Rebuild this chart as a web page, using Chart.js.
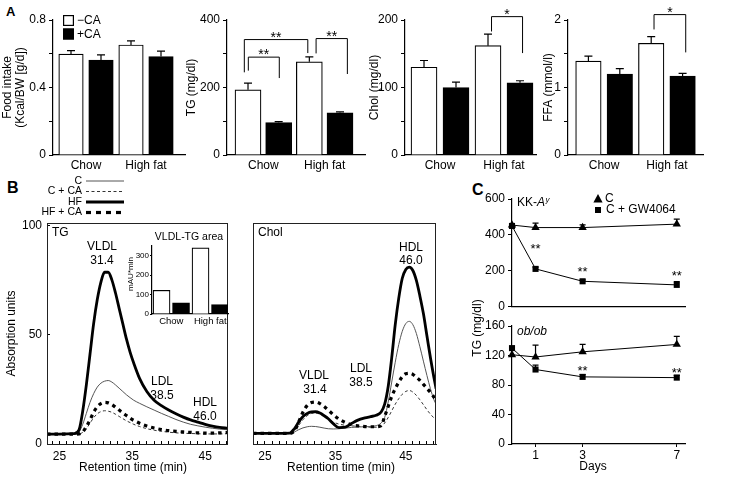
<!DOCTYPE html>
<html><head><meta charset="utf-8"><title>Figure</title>
<script src="https://cdn.jsdelivr.net/npm/chart.js@4.4.1/dist/chart.umd.min.js"></script>
<style>
html,body{margin:0;padding:0;background:#fff;}
body{width:747px;height:479px;position:relative;overflow:hidden;font-family:'Liberation Sans',Arial,sans-serif;}
canvas{position:absolute;}
.panel{position:absolute;font-weight:bold;line-height:1;color:#000;}
</style></head>
<body>
<div class="panel" style="left:6px;top:5px;font-size:13px">A</div>
<div class="panel" style="left:7px;top:180px;font-size:16px">B</div>
<div class="panel" style="left:472px;top:182px;font-size:16px">C</div>
<script>
// ================= DATA =================
// Panel A
const groups = ['Chow', 'High fat'];
const treat = ['\u2212CA', '+CA'];
const foodMinus = [0.598, 0.652], foodPlus = [0.563, 0.583];
const foodMinusErr = [0.02, 0.024], foodPlusErr = [0.03, 0.033];
const tgMinus = [193, 276], tgPlus = [96, 125];
const tgMinusErr = [20, 15], tgPlusErr = [3, 3];
const cholMinus = [130, 162], cholPlus = [100, 107];
const cholMinusErr = [10, 17], cholPlusErr = [8, 3];
const ffaMinus = [1.39, 1.655], ffaPlus = [1.2, 1.17];
const ffaMinusErr = [0.075, 0.1], ffaPlusErr = [0.08, 0.04];
const foodTicks = [0, 0.4, 0.8], tgTicks = [0, 200, 400], cholTicks = [0, 100, 200], ffaTicks = [0, 1, 2];

// Panel B inset
const vldlMinus = [122, 340], vldlPlus = [57, 48];
const vldlTicks = [0, 100, 200, 300];

// Panel B chromatograms
const lipoSeries = ['C', 'C + CA', 'HF', 'HF + CA'];
const retTicks = [25, 35, 45];
const absTicks = [0, 50, 100];
const tgTime = [23.3, 25, 27, 27.7, 28.2, 28.7, 29.2, 29.7, 30.2, 30.7, 31.2, 31.7, 32.2, 32.7, 33.2, 33.7, 34.2, 34.7, 35.2, 36, 37, 38, 39, 40, 41, 42, 43, 44, 45, 46, 47, 48.1];
const tgC    = [4.5, 4.5, 4.6, 5.5, 9, 14, 19, 23, 26, 27.8, 28.7, 29, 28.3, 27, 25.5, 24, 22.5, 21.2, 20, 18.6, 17, 15.5, 14, 12.6, 11.2, 10, 9, 8.3, 7.7, 7.2, 6.8, 6.5];
const tgCCA  = [4.5, 4.5, 4.5, 4.6, 5.3, 7, 9.5, 12, 13.8, 14.8, 15.2, 15, 14.5, 13.6, 12.6, 11.6, 10.6, 9.8, 9, 8, 7, 6.3, 5.8, 5.4, 5.1, 4.9, 4.8, 4.7, 4.6, 4.6, 4.6, 4.7];
const tgHF   = [4.5, 4.5, 4.7, 6.5, 15, 27, 41, 55, 66, 74, 78.5, 78.5, 75, 69, 62, 55, 48, 42, 37, 30, 24, 20, 17.5, 15.5, 13.8, 12.3, 11, 10, 9, 8.2, 7.6, 7.2];
const tgHFCA = [4.5, 4.5, 4.5, 4.6, 5.5, 8, 11, 14.5, 17, 18.5, 19, 18.8, 18, 16.8, 15.5, 14.2, 13, 11.8, 10.8, 9.5, 8.2, 7.3, 6.6, 6.1, 5.8, 5.5, 5.3, 5.1, 5, 5, 5.1, 5.3];
const cholTime = [23.3, 25, 27, 28.5, 29.2, 29.8, 30.4, 31, 31.6, 32.2, 32.8, 33.4, 34, 34.7, 35.5, 36.4, 37.3, 38.2, 39.2, 40, 40.8, 41.5, 42, 42.5, 43, 43.5, 44, 44.5, 45, 45.5, 46, 46.5, 47, 47.5, 48, 48.5, 49, 49.3];
const cholC    = [4.8, 4.8, 4.8, 4.8, 5.5, 6.5, 7.3, 7.8, 8, 7.9, 7.6, 7.2, 6.9, 6.8, 6.9, 7.2, 7.5, 7.7, 7.8, 7.9, 8.3, 9.5, 12, 19, 28, 37, 45, 51, 54.5, 55.5, 54, 50, 44, 37.5, 31, 25, 20, 18];
const cholCCA  = [4.8, 4.8, 4.8, 4.8, 6, 8.5, 11, 12.8, 13.8, 14, 13.5, 12.5, 11.3, 10, 9, 8.5, 8.2, 8, 7.8, 7.6, 7.6, 8, 9.5, 12, 15, 18, 20.5, 22.5, 23.8, 24.2, 23.5, 22, 20, 17.8, 15.5, 13.5, 11.8, 11];
const cholHF   = [4.8, 4.8, 4.8, 4.9, 7, 10, 12.4, 13.8, 14.5, 14.6, 14, 12.8, 11.4, 9.2, 7.4, 7.6, 9.3, 10.8, 11.8, 12.4, 13, 14.5, 18, 26, 39, 54, 66, 75, 79, 80, 78.5, 74, 67, 59, 49, 39, 30, 25];
const cholHFCA = [4.8, 4.8, 4.8, 4.8, 6, 10, 14.5, 17.5, 18.8, 19, 18.3, 17, 15.3, 13.3, 11.3, 9.7, 8.7, 8.2, 7.9, 7.8, 7.8, 8.3, 12.5, 17, 21.5, 25, 28, 30.5, 31.8, 32, 31.5, 30.2, 28.8, 27, 25.2, 23.3, 21.2, 20];

// Panel C
const timeSeries = ['C', 'C + GW4064'];
const days = [0, 1, 3, 7];
const dayTicks = [1, 3, 7];
const kkC = [455, 441, 441, 460], kkCErr = [0, 25, 15, 28];
const kkGW = [450, 211, 142, 122], kkGWErr = [0, 10, 8, 18];
const obC = [121, 118, 125, 135], obCErr = [0, 16, 10, 11];
const obGW = [130, 101, 91, 90], obGWErr = [0, 6, 3, 3];
const kkTicks = [0, 200, 400, 600], obTicks = [0, 40, 80, 120, 160];

// ================= HELPERS =================
const FONT = "'Liberation Sans', Arial, Helvetica, sans-serif";
Chart.defaults.font.family = FONT;
Chart.defaults.font.size = 12;
Chart.defaults.color = '#000';

function place(plot, leftW, bottomH, padTop, padRight) {
  const L = plot.l - leftW, T = plot.t - padTop;
  const W = leftW + plot.r - plot.l + padRight, H = padTop + plot.b - plot.t + bottomH;
  const c = document.createElement('canvas');
  c.width = W; c.height = H;
  Object.assign(c.style, {left: L + 'px', top: T + 'px', width: W + 'px', height: H + 'px'});
  document.body.appendChild(c);
  return {canvas: c, L, T, leftW, bottomH, padTop, padRight};
}
function baseOpts(P) {
  return {
    responsive: false, maintainAspectRatio: false, animation: false, devicePixelRatio: 1, events: [],
    layout: {padding: {top: P.padTop, right: P.padRight, left: 0, bottom: 0}},
    plugins: {legend: {display: false}, tooltip: {enabled: false}}
  };
}
function near(list, v) { return list.find(l => Math.abs(l - v) < 1e-6); }
function labelFrom(list) { return v => { const l = near(list, v); return l === undefined ? '' : String(l); }; }
function txt(ctx, s, x, y, o = {}) {
  ctx.save();
  ctx.font = `${o.style || 'normal'} ${o.weight || 'normal'} ${o.size || 12}px ${FONT}`;
  ctx.fillStyle = o.color || '#000';
  ctx.textAlign = o.align || 'center';
  ctx.textBaseline = o.baseline || 'middle';
  ctx.translate(x, y);
  if (o.rot) ctx.rotate(o.rot);
  ctx.fillText(s, 0, 0);
  ctx.restore();
}
function pageText(P, items) {
  return {id: 'pageText', afterDraw(chart) {
    items.forEach(it => txt(chart.ctx, it.t, it.x - P.L, it.y - P.T, it));
  }};
}
const errorBars = {id: 'errorBars', afterDatasetsDraw(chart) {
  const ctx = chart.ctx;
  chart.data.datasets.forEach((ds, di) => {
    if (!ds.err) return;
    const meta = chart.getDatasetMeta(di);
    const ys = chart.scales[meta.yAxisID];
    const cap = ds.errCap || 4;
    meta.data.forEach((el, i) => {
      const e = ds.err[i]; if (!e) return;
      const v = ds.data[i].y;
      const y0 = ys.getPixelForValue(v), y1 = ys.getPixelForValue(v + e);
      ctx.save(); ctx.strokeStyle = '#000'; ctx.lineWidth = 1.2; ctx.beginPath();
      ctx.moveTo(el.x, y0); ctx.lineTo(el.x, y1);
      ctx.moveTo(el.x - cap, y1); ctx.lineTo(el.x + cap, y1);
      ctx.stroke(); ctx.restore();
    });
  });
}};
function bracketPlugin(list) { return {id: 'brackets', afterDraw(chart) {
  const ctx = chart.ctx, xs = chart.scales.x, ys = chart.scales.y;
  list.forEach(b => {
    const x0 = xs.getPixelForValue(b.x0), x1 = xs.getPixelForValue(b.x1);
    const yt = ys.getPixelForValue(b.top), ya = ys.getPixelForValue(b.y0), yb = ys.getPixelForValue(b.y1);
    ctx.save(); ctx.strokeStyle = '#000'; ctx.lineWidth = 1;
    ctx.beginPath(); ctx.moveTo(x0, ya); ctx.lineTo(x0, yt); ctx.lineTo(x1, yt); ctx.lineTo(x1, yb); ctx.stroke(); ctx.restore();
    txt(ctx, b.text, (x0 + x1) / 2, yt + 2, {size: 14, baseline: 'alphabetic'});
  });
}};}
const boxPlugin = {id: 'box', afterDraw(chart) {
  const a = chart.chartArea, ctx = chart.ctx;
  ctx.save(); ctx.strokeStyle = '#222'; ctx.lineWidth = 1;
  ctx.strokeRect(Math.round(a.left) + 0.5, Math.round(a.top) + 0.5, Math.round(a.right - a.left) - 1, Math.round(a.bottom - a.top));
  ctx.restore();
}};

// ================= PANEL A =================
function barPanel(o) {
  const P = place(o.plot, o.leftW, o.bottomH || 22, o.padTop || 20, o.padRight || 4);
  const pos = (ci, si) => 2 * ci + si;
  const mk = (vals, errs, si, fill) => ({
    label: treat[si], data: vals.map((v, ci) => ({x: pos(ci, si), y: v})), err: errs,
    backgroundColor: fill, borderColor: '#000', borderWidth: 1.2, grouped: false,
    maxBarThickness: o.barW, barPercentage: 1, categoryPercentage: 1
  });
  const opts = baseOpts(P);
  const fs = o.fontSize || 12;
  opts.scales = {
    x: {type: 'linear', min: o.xMin, max: o.xMax, offset: false,
      afterFit: s => { s.height = P.bottomH; },
      afterBuildTicks: s => { s.ticks = groups.map((g, i) => ({value: 2 * i + 0.5})); },
      ticks: {autoSkip: false, maxRotation: 0, padding: o.xPad || 3, font: {size: fs},
        callback: v => groups[Math.round((v - 0.5) / 2)] ?? ''},
      grid: {drawOnChartArea: false, drawTicks: false, offset: false},
      border: {color: '#000', width: 1.2}},
    y: {min: 0, max: o.yMax,
      afterFit: s => { s.width = P.leftW; },
      afterBuildTicks: o.tickList ? (s => { s.ticks = o.tickList.map(v => ({value: v})); }) : undefined,
      ticks: {stepSize: o.step, autoSkip: false, padding: o.yPad || 3, font: {size: o.yFont || fs}, callback: labelFrom(o.labels)},
      grid: {drawOnChartArea: false, tickLength: o.tickLen || 4, color: '#000'},
      border: {color: '#000', width: 1.2},
      title: o.title ? {display: true, text: o.title, font: {size: 12, lineHeight: o.titleLH || 1.2},
        padding: {top: o.titlePad, bottom: 0}} : {display: false}}
  };
  return new Chart(P.canvas, {
    type: 'bar',
    data: {datasets: [mk(o.minus, o.minusErr, 0, '#fff'), mk(o.plus, o.plusErr, 1, '#000')]},
    options: opts,
    plugins: [errorBars, bracketPlugin(o.brackets || []), ...(o.extra ? o.extra(P) : [])]
  });
}

// Food intake
barPanel({plot: {l: 53, t: 20, r: 185, b: 155}, leftW: 53, padRight: 2, xMin: -0.6, xMax: 3.8, barW: 24.5,
  minus: foodMinus, plus: foodPlus, minusErr: foodMinusErr, plusErr: foodPlusErr,
  yMax: 0.8, step: 0.2, labels: foodTicks, title: ['Food intake', '(Kcal/BW [g/d])'], titleLH: 13 / 12, titlePad: 1.5,
  extra: P => [{id: 'sqLegend', afterDraw(chart) {
    const ctx = chart.ctx, ys = [20.5, 34];
    chart.data.datasets.forEach((ds, i) => {
      const y = ys[i] - P.T, xx = 63 - P.L;
      ctx.save(); ctx.fillStyle = ds.backgroundColor; ctx.fillRect(xx, y - 5.5, 11, 11);
      ctx.strokeStyle = '#000'; ctx.lineWidth = 1.2; ctx.strokeRect(xx + 0.6, y - 4.9, 9.8, 9.8); ctx.restore();
      txt(ctx, ds.label, xx + 14, y + 0.5, {align: 'left'});
    });
  }}]
});
// TG
barPanel({plot: {l: 227, t: 20, r: 365, b: 155}, leftW: 44, xMin: -0.685, xMax: 3.815, barW: 26,
  minus: tgMinus, plus: tgPlus, minusErr: tgMinusErr, plusErr: tgPlusErr,
  yMax: 400, step: 100, labels: tgTicks, title: 'TG (mg/dl)', titlePad: 1.8,
  brackets: [
    {x0: 0.01, x1: 1.02, top: 290, y0: 250, y1: 228, text: '**'},
    {x0: -0.12, x1: 1.95, top: 342, y0: 245, y1: 302, text: '**'},
    {x0: 2.22, x1: 3.24, top: 345, y0: 301, y1: 240, text: '**'}
  ]});
// Chol
barPanel({plot: {l: 405, t: 20, r: 536, b: 155}, leftW: 40, xMin: -0.594, xMax: 3.5, barW: 26,
  minus: cholMinus, plus: cholPlus, minusErr: cholMinusErr, plusErr: cholPlusErr,
  yMax: 200, step: 50, labels: cholTicks, title: 'Chol (mg/dl)', titlePad: 2.8,
  brackets: [{x0: 2.11, x1: 3.08, top: 205, y0: 183, y1: 151, text: '*'}]});
// FFA
barPanel({plot: {l: 568, t: 20, r: 703, b: 155}, leftW: 30, padRight: 10, xMin: -0.65, xMax: 3.65, barW: 25.5,
  minus: ffaMinus, plus: ffaPlus, minusErr: ffaMinusErr, plusErr: ffaPlusErr,
  yMax: 2, step: 0.5, labels: ffaTicks, title: 'FFA (mmol/l)', titlePad: 3.8,
  brackets: [{x0: 2.09, x1: 3.1, top: 2.08, y0: 1.86, y1: 1.52, text: '*'}]});

// ================= PANEL B =================
const lineStyles = [
  {w: 1, dash: [], color: '#555', order: 2},
  {w: 1, dash: [3, 2.5], color: '#333', order: 3},
  {w: 2.8, dash: [], color: '#000', order: 0},
  {w: 3.2, dash: [3.5, 4], color: '#000', order: 1}
];
function chromPanel(o) {
  const P = place(o.plot, o.leftW, 32, o.padTop, 3);
  const datasets = o.series.map((vals, i) => ({
    label: lipoSeries[i], data: vals.map((v, k) => ({x: o.time[k], y: v})),
    borderColor: lineStyles[i].color, borderWidth: lineStyles[i].w, borderDash: lineStyles[i].dash,
    order: lineStyles[i].order, pointRadius: 0, fill: false, cubicInterpolationMode: 'monotone'
  }));
  const opts = baseOpts(P);
  opts.scales = {
    x: {type: 'linear', min: o.xMin, max: o.xMax,
      afterFit: s => { s.height = P.bottomH; },
      afterBuildTicks: s => { const t = []; for (let v = Math.ceil(s.min); v <= Math.floor(s.max); v++) t.push({value: v}); s.ticks = t; },
      ticks: {autoSkip: false, maxRotation: 0, padding: 8, callback: labelFrom(retTicks)},
      grid: {drawOnChartArea: false, tickLength: -3, color: '#000'},
      border: {color: '#222', width: 1}},
    y: {min: 0, max: o.yMax,
      afterFit: s => { s.width = P.leftW; },
      afterBuildTicks: s => { s.ticks = o.yLabels ? absTicks.map(v => ({value: v})) : []; },
      ticks: {display: !!o.yLabels, autoSkip: false, padding: 8, callback: labelFrom(absTicks)},
      grid: {drawOnChartArea: false, tickLength: -3, color: '#000', drawTicks: !!o.yLabels},
      border: {color: '#222', width: 1},
      title: o.yTitle ? {display: true, text: o.yTitle, font: {size: 12}, padding: {top: o.titlePad, bottom: 0}} : {display: false}}
  };
  return new Chart(P.canvas, {
    type: 'line', data: {datasets}, options: opts,
    plugins: [boxPlugin, pageText(P, o.texts), ...(o.extra ? o.extra(P) : [])]
  });
}
chromPanel({plot: {l: 47, t: 223, r: 232, b: 444}, leftW: 45, padTop: 53, xMin: 23.3, xMax: 48.1, yMax: 101,
  time: tgTime, series: [tgC, tgCCA, tgHF, tgHFCA], yLabels: true, yTitle: 'Absorption units', titlePad: 2.8,
  texts: [
    {t: 'TG', x: 52, y: 233, align: 'left'},
    {t: 'VLDL', x: 102, y: 247}, {t: '31.4', x: 102, y: 261},
    {t: 'LDL', x: 162, y: 382}, {t: '38.5', x: 162, y: 396},
    {t: 'HDL', x: 205, y: 403}, {t: '46.0', x: 205, y: 417},
    {t: 'Retention time (min)', x: 133, y: 468}
  ],
  extra: P => [{id: 'lineLegend', afterDraw(chart) {
    const ctx = chart.ctx, ys = [181, 191.5, 202, 212.5];
    chart.data.datasets.forEach((ds, i) => {
      const y = ys[i] - P.T;
      txt(ctx, ds.label, 82 - P.L, y, {size: 10.5, align: 'right'});
      ctx.save(); ctx.strokeStyle = ds.borderColor; ctx.lineWidth = ds.borderWidth;
      ctx.setLineDash(i === 3 ? [5, 5] : ds.borderDash);
      ctx.beginPath(); ctx.moveTo(86 - P.L, y); ctx.lineTo(124 - P.L, y); ctx.stroke(); ctx.restore();
    });
  }}]
});
chromPanel({plot: {l: 253, t: 223, r: 439, b: 444}, leftW: 10, padTop: 10, xMin: 23.3, xMax: 49.3, yMax: 100,
  time: cholTime, series: [cholC, cholCCA, cholHF, cholHFCA], yLabels: false,
  texts: [
    {t: 'Chol', x: 258, y: 233, align: 'left'},
    {t: 'VLDL', x: 314, y: 376}, {t: '31.4', x: 315, y: 390},
    {t: 'LDL', x: 361, y: 369}, {t: '38.5', x: 361, y: 383},
    {t: 'HDL', x: 411, y: 248}, {t: '46.0', x: 411, y: 261},
    {t: 'Retention time (min)', x: 341, y: 468}
  ]});

// Inset: VLDL-TG area
barPanel({plot: {l: 152, t: 246, r: 228, b: 314}, leftW: 26, padTop: 18, padRight: 10, bottomH: 18, xMin: -0.49, xMax: 3.41, barW: 17,
  minus: vldlMinus, plus: vldlPlus, minusErr: [0, 0], plusErr: [0, 0], fontSize: 9.5, yFont: 8, xPad: 2, yPad: 1,
  yMax: 350, step: 100, tickList: vldlTicks, labels: vldlTicks, tickLen: 2,
  extra: P => [pageText(P, [
    {t: 'VLDL-TG area', x: 189, y: 237, size: 10.5},
    {t: 'mAU*min', x: 131, y: 274, size: 8, rot: -Math.PI / 2}
  ])]});

// ================= PANEL C =================
function timePanel(o) {
  const P = place(o.plot, 40, o.bottomH, o.padTop, 8);
  const styles = [{ps: 'triangle', r: 4.8}, {ps: 'rect', r: 4.3}];
  const datasets = o.series.map((vals, i) => ({
    label: timeSeries[i], data: days.map((d, k) => ({x: d, y: vals[k]})), err: o.errs[i], errCap: 3,
    borderColor: '#000', borderWidth: 1, backgroundColor: '#000', pointBackgroundColor: '#000', pointBorderColor: '#000',
    pointBorderWidth: 0, pointStyle: styles[i].ps, pointRadius: styles[i].r, tension: 0, clip: false
  }));
  const opts = baseOpts(P);
  opts.scales = {
    x: {type: 'linear', min: 0, max: 7.35,
      afterFit: s => { s.height = P.bottomH; },
      afterBuildTicks: s => { s.ticks = o.xLabels ? dayTicks.map(v => ({value: v})) : []; },
      ticks: {display: !!o.xLabels, autoSkip: false, maxRotation: 0, padding: 1, callback: labelFrom(dayTicks)},
      grid: {drawOnChartArea: false, drawTicks: !!o.xLabels, tickLength: 3, color: '#000'},
      border: {color: '#000', width: 1.2}},
    y: {min: 0, max: o.yMax,
      afterFit: s => { s.width = P.leftW; },
      afterBuildTicks: s => { s.ticks = o.ticks.map(v => ({value: v})); },
      ticks: {autoSkip: false, padding: 3, callback: labelFrom(o.ticks)},
      grid: {drawOnChartArea: false, tickLength: 4, color: '#000'},
      border: {color: '#000', width: 1.2}}
  };
  const stars = {id: 'stars', afterDraw(chart) {
    const xs = chart.scales.x, ys = chart.scales.y;
    o.stars.forEach(s => txt(chart.ctx, '**', xs.getPixelForValue(s.d), ys.getPixelForValue(s.v), {size: 13, baseline: 'alphabetic'}));
  }};
  return new Chart(P.canvas, {
    type: 'line', data: {datasets}, options: opts,
    plugins: [errorBars, stars, ...(o.extra ? o.extra(P) : [])]
  });
}
timePanel({plot: {l: 512, t: 199, r: 685, b: 312}, bottomH: 5, padTop: 19, yMax: 600, ticks: kkTicks,
  series: [kkC, kkGW], errs: [kkCErr, kkGWErr], xLabels: false,
  stars: [{d: 1, v: 300}, {d: 3, v: 172}, {d: 7, v: 151}],
  extra: P => [{id: 'kkLegend', afterDraw(chart) {
    const ctx = chart.ctx;
    let x = 517 - P.L; const y = 203 - P.T;
    ctx.save(); ctx.fillStyle = '#000'; ctx.textBaseline = 'middle'; ctx.textAlign = 'left';
    ctx.font = `12px ${FONT}`; ctx.fillText('KK-', x, y); x += ctx.measureText('KK-').width;
    ctx.font = `italic 12px ${FONT}`; ctx.fillText('A', x, y); x += ctx.measureText('A').width;
    ctx.font = `italic 8px ${FONT}`; ctx.fillText('y', x + 0.5, y - 3);
    ctx.restore();
    const mx = 598 - P.L, y1 = 199 - P.T, y2 = 210 - P.T;
    ctx.save(); ctx.fillStyle = '#000';
    ctx.beginPath(); ctx.moveTo(mx, y1 - 5); ctx.lineTo(mx + 4.6, y1 + 3.5); ctx.lineTo(mx - 4.6, y1 + 3.5); ctx.closePath(); ctx.fill();
    ctx.fillRect(mx - 3, y2 - 3, 6, 6);
    ctx.restore();
    txt(ctx, chart.data.datasets[0].label, 605 - P.L, y1, {align: 'left'});
    txt(ctx, chart.data.datasets[1].label, 606 - P.L, y2, {align: 'left'});
  }}]
});
timePanel({plot: {l: 512, t: 326, r: 685, b: 444}, bottomH: 32, padTop: 36, yMax: 160, ticks: obTicks,
  series: [obC, obGW], errs: [obCErr, obGWErr], xLabels: true,
  stars: [{d: 3, v: 94}, {d: 7, v: 91}],
  extra: P => [pageText(P, [
    {t: 'ob/ob', x: 517, y: 332, align: 'left', style: 'italic'},
    {t: 'TG (mg/dl)', x: 478, y: 328, rot: -Math.PI / 2},
    {t: 'Days', x: 593, y: 467}
  ])]
});
</script>
</body></html>
